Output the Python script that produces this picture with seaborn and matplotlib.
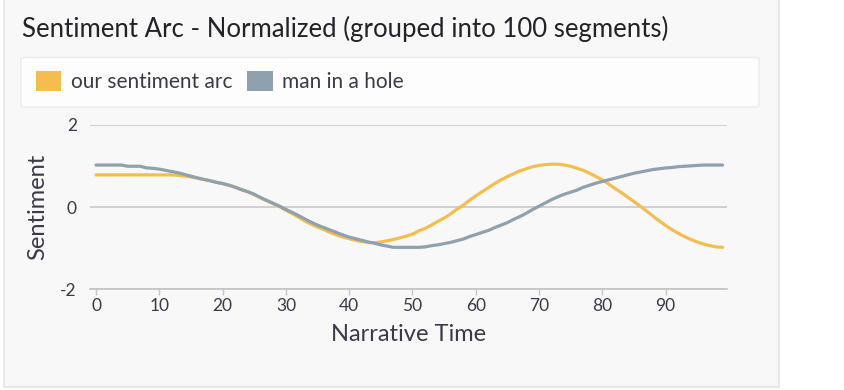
import numpy as np
import pandas as pd
import matplotlib.pyplot as plt
import seaborn as sns
from matplotlib.patches import Patch, Rectangle, FancyBboxPatch

# values (100 segments)
segments = list(range(100))
our_arc = [
    0.78, 0.78, 0.78, 0.78, 0.78, 0.78, 0.78, 0.78, 0.78, 0.78,
    0.78, 0.78, 0.78, 0.77, 0.75, 0.73, 0.70, 0.67, 0.64, 0.60,
    0.57, 0.53, 0.48, 0.42, 0.37, 0.30, 0.22, 0.15, 0.08, 0.01,
    -0.08, -0.16, -0.25, -0.34, -0.42, -0.49, -0.55, -0.62, -0.68, -0.73,
    -0.77, -0.81, -0.84, -0.86, -0.87, -0.85, -0.82, -0.79, -0.75, -0.71,
    -0.66, -0.58, -0.52, -0.44, -0.35, -0.27, -0.17, -0.06, 0.04, 0.16,
    0.27, 0.37, 0.47, 0.57, 0.66, 0.74, 0.81, 0.88, 0.93, 0.98,
    1.01, 1.03, 1.04, 1.04, 1.02, 0.99, 0.94, 0.89, 0.82, 0.74,
    0.66, 0.56, 0.45, 0.35, 0.24, 0.13, 0.02, -0.10, -0.22, -0.34,
    -0.45, -0.55, -0.64, -0.72, -0.79, -0.85, -0.90, -0.94, -0.97, -0.98,
]
man_in_hole = [
    1.02, 1.02, 1.02, 1.02, 1.02, 0.99, 0.99, 0.99, 0.95, 0.94,
    0.92, 0.89, 0.86, 0.83, 0.79, 0.75, 0.71, 0.67, 0.64, 0.60,
    0.57, 0.53, 0.48, 0.42, 0.37, 0.31, 0.23, 0.16, 0.09, 0.02,
    -0.06, -0.13, -0.21, -0.29, -0.37, -0.44, -0.50, -0.56, -0.62, -0.68,
    -0.73, -0.77, -0.81, -0.85, -0.88, -0.92, -0.95, -0.98, -0.98, -0.98,
    -0.98, -0.98, -0.97, -0.94, -0.92, -0.89, -0.86, -0.82, -0.78, -0.72,
    -0.67, -0.62, -0.57, -0.50, -0.44, -0.38, -0.30, -0.23, -0.15, -0.06,
    0.02, 0.10, 0.18, 0.25, 0.31, 0.36, 0.41, 0.48, 0.53, 0.58,
    0.62, 0.66, 0.70, 0.74, 0.78, 0.82, 0.85, 0.88, 0.91, 0.93,
    0.95, 0.96, 0.98, 0.99, 1.00, 1.01, 1.02, 1.02, 1.02, 1.02,
]
series_names = ['our sentiment arc', 'man in a hole']
series_colors = ['#F5BD4F', '#8FA0AE']
x_ticks = list(range(0, 100, 10))
y_ticks = [-2, 0, 2]

df = pd.DataFrame({
    'Narrative Time': segments * 2,
    'Sentiment': our_arc + man_in_hole,
    'series': [series_names[0]] * 100 + [series_names[1]] * 100,
})

sns.set_theme(style='white')
plt.rcParams['font.family'] = ['Lato', 'DejaVu Sans']
plt.rcParams['axes.unicode_minus'] = False
text_col = '#3a3a48'

W, H = 844, 390
fig = plt.figure(figsize=(W / 100, H / 100), dpi=100, facecolor='white')


def fx(px):
    return px / W


def fy(py):
    return 1 - py / H


# card background and legend box
card = Rectangle((fx(4), fy(386.5)), fx(779) - fx(4), 1.05, transform=fig.transFigure,
                 facecolor='#f8f8f8', edgecolor='#e4e4e4', linewidth=1.2, zorder=-10)
fig.patches.append(card)
legbox = FancyBboxPatch((fx(21), fy(107)), fx(759) - fx(21), fy(57.5) - fy(107),
                        boxstyle='round,pad=0,rounding_size=0.004', transform=fig.transFigure,
                        facecolor='#fdfdfd', edgecolor='#ebebeb', linewidth=1, zorder=-5)
fig.patches.append(legbox)

ax = fig.add_axes([fx(90), fy(289.3), fx(727) - fx(90), fy(124.7) - fy(289.3)])
ax.set_facecolor('none')

sns.lineplot(data=df, x='Narrative Time', y='Sentiment', hue='series',
             palette=dict(zip(series_names, series_colors)), linewidth=2.3,
             legend=False, ax=ax)
ax.set_xlim(-0.95, 99.7)
ax.set_ylim(-2, 2)
ax.set_xticks(x_ticks)
ax.set_yticks(y_ticks)
ax.grid(axis='y', color='#c8c8c8', linewidth=1.2)
ax.grid(axis='x', visible=False)
for s in ['left', 'right', 'top']:
    ax.spines[s].set_visible(False)
ax.spines['bottom'].set_color('#c4c4c4')
ax.spines['bottom'].set_linewidth(1.2)
ax.tick_params(axis='x', length=4.5, width=1, color='#c4c4c4', pad=2,
               labelsize=12.5, labelcolor=text_col, bottom=True)
ax.tick_params(axis='y', length=0, pad=9.5, labelsize=12.5, labelcolor=text_col)
ax.set_xlabel('Narrative Time', fontsize=17, color=text_col, labelpad=7)
ax.set_ylabel('Sentiment', fontsize=17, color=text_col, labelpad=9)

fig.text(fx(22), fy(37), 'Sentiment Arc - Normalized (grouped into 100 segments)',
         fontsize=18.5, color='#222228', va='baseline', ha='left')

handles = [Patch(facecolor=c, edgecolor=c, joinstyle='round', linewidth=3.6) for c in series_colors]
leg = fig.legend(handles, series_names, loc='center left',
                 bbox_to_anchor=(fx(37.5), fy(82)), frameon=False, ncol=2,
                 fontsize=15, handlelength=1.0, handleheight=0.72,
                 handletextpad=0.6, columnspacing=0.8, borderaxespad=0, borderpad=0,
                 labelcolor=text_col)

fig.savefig('out.png', dpi=100, facecolor='white')
